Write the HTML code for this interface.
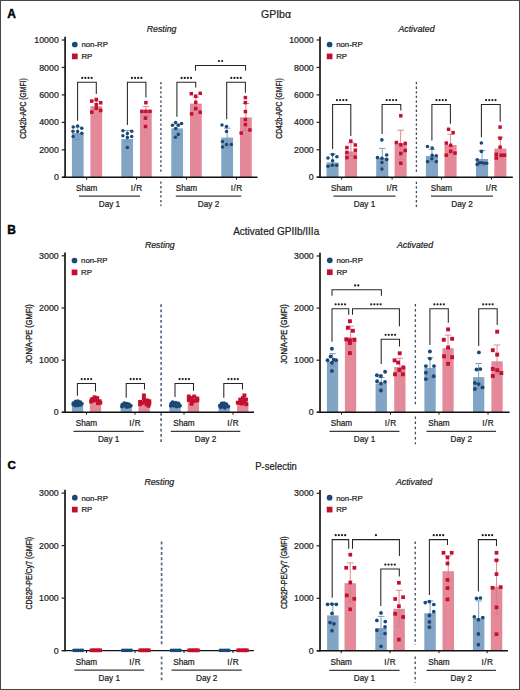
<!DOCTYPE html>
<html><head><meta charset="utf-8"><style>
html,body{margin:0;padding:0;background:#fff;}
body{width:520px;height:690px;overflow:hidden;}
svg{display:block;}
</style></head><body>
<svg width="520" height="690" viewBox="0 0 520 690" font-family='"Liberation Sans", sans-serif'>
<rect x="0" y="0" width="520" height="690" fill="#fff"/>
<text x="7.3" y="18.1" font-size="12" text-anchor="start" font-weight="bold" font-style="normal" fill="#000" stroke="#000" stroke-width="0.4" >A</text>
<text x="7.3" y="234.2" font-size="12" text-anchor="start" font-weight="bold" font-style="normal" fill="#000" stroke="#000" stroke-width="0.4" >B</text>
<text x="7.6" y="469.1" font-size="11.7" text-anchor="start" font-weight="bold" font-style="normal" fill="#000" stroke="#000" stroke-width="0.4" >C</text>
<text x="276" y="17.8" font-size="10.5" text-anchor="middle" font-weight="normal" font-style="normal" fill="#222" stroke="#222" stroke-width="0.22" >GPIb&#945;</text>
<text x="276.2" y="235" font-size="10.5" text-anchor="middle" font-weight="normal" font-style="normal" fill="#222" stroke="#222" stroke-width="0.22" textLength="86" lengthAdjust="spacingAndGlyphs">Activated GPIIb/IIIa</text>
<text x="276.1" y="469.8" font-size="10.5" text-anchor="middle" font-weight="normal" font-style="normal" fill="#222" stroke="#222" stroke-width="0.22" textLength="41.6" lengthAdjust="spacingAndGlyphs">P-selectin</text>
<rect x="71.9" y="133" width="11.75" height="44.3" fill="#83a5c5"/>
<rect x="90.4" y="106.2" width="11.75" height="71.1" fill="#e4899a"/>
<rect x="121.3" y="139" width="11.75" height="38.3" fill="#83a5c5"/>
<rect x="140" y="110.1" width="11.75" height="67.2" fill="#e4899a"/>
<rect x="171.3" y="128.4" width="11.75" height="48.9" fill="#83a5c5"/>
<rect x="190" y="103.6" width="11.75" height="73.7" fill="#e4899a"/>
<rect x="221.3" y="137.6" width="11.75" height="39.7" fill="#83a5c5"/>
<rect x="240" y="117.4" width="11.75" height="59.9" fill="#e4899a"/>
<line x1="65.1" y1="36.7" x2="65.1" y2="177.9" stroke="#1e1e1e" stroke-width="1.75" />
<line x1="61.9" y1="177.3" x2="257.5" y2="177.3" stroke="#111" stroke-width="1.4" />
<line x1="77.78" y1="127" x2="77.78" y2="139.5" stroke="#6f95bd" stroke-width="0.9" />
<line x1="74.48" y1="127" x2="81.08" y2="127" stroke="#6f95bd" stroke-width="0.9" />
<line x1="74.48" y1="139.5" x2="81.08" y2="139.5" stroke="#6f95bd" stroke-width="0.9" />
<line x1="96.28" y1="101" x2="96.28" y2="110" stroke="#d97a8d" stroke-width="0.9" />
<line x1="92.98" y1="101" x2="99.58" y2="101" stroke="#d97a8d" stroke-width="0.9" />
<line x1="92.98" y1="110" x2="99.58" y2="110" stroke="#d97a8d" stroke-width="0.9" />
<line x1="127.17" y1="130.5" x2="127.17" y2="141.6" stroke="#6f95bd" stroke-width="0.9" />
<line x1="123.88" y1="130.5" x2="130.47" y2="130.5" stroke="#6f95bd" stroke-width="0.9" />
<line x1="123.88" y1="141.6" x2="130.47" y2="141.6" stroke="#6f95bd" stroke-width="0.9" />
<line x1="145.88" y1="106.6" x2="145.88" y2="116" stroke="#d97a8d" stroke-width="0.9" />
<line x1="142.57" y1="106.6" x2="149.18" y2="106.6" stroke="#d97a8d" stroke-width="0.9" />
<line x1="142.57" y1="116" x2="149.18" y2="116" stroke="#d97a8d" stroke-width="0.9" />
<line x1="177.18" y1="124" x2="177.18" y2="133" stroke="#6f95bd" stroke-width="0.9" />
<line x1="173.88" y1="124" x2="180.48" y2="124" stroke="#6f95bd" stroke-width="0.9" />
<line x1="173.88" y1="133" x2="180.48" y2="133" stroke="#6f95bd" stroke-width="0.9" />
<line x1="195.88" y1="97" x2="195.88" y2="110" stroke="#d97a8d" stroke-width="0.9" />
<line x1="192.57" y1="97" x2="199.18" y2="97" stroke="#d97a8d" stroke-width="0.9" />
<line x1="192.57" y1="110" x2="199.18" y2="110" stroke="#d97a8d" stroke-width="0.9" />
<line x1="227.18" y1="128.2" x2="227.18" y2="147" stroke="#6f95bd" stroke-width="0.9" />
<line x1="223.88" y1="128.2" x2="230.48" y2="128.2" stroke="#6f95bd" stroke-width="0.9" />
<line x1="223.88" y1="147" x2="230.48" y2="147" stroke="#6f95bd" stroke-width="0.9" />
<line x1="245.88" y1="103.5" x2="245.88" y2="130.4" stroke="#d97a8d" stroke-width="0.9" />
<line x1="242.57" y1="103.5" x2="249.18" y2="103.5" stroke="#d97a8d" stroke-width="0.9" />
<line x1="242.57" y1="130.4" x2="249.18" y2="130.4" stroke="#d97a8d" stroke-width="0.9" />
<circle cx="73.2" cy="127" r="1.75" fill="#1b4874"/>
<circle cx="77.6" cy="126.1" r="1.75" fill="#1b4874"/>
<circle cx="81.8" cy="128.3" r="1.75" fill="#1b4874"/>
<circle cx="73" cy="131.2" r="1.75" fill="#1b4874"/>
<circle cx="77.6" cy="131.6" r="1.75" fill="#1b4874"/>
<circle cx="81.8" cy="133.2" r="1.75" fill="#1b4874"/>
<circle cx="73.2" cy="136.5" r="1.75" fill="#1b4874"/>
<rect x="89.95" y="99.35" width="3.5" height="3.5" fill="#c3102f"/>
<rect x="94.55" y="97.75" width="3.5" height="3.5" fill="#c3102f"/>
<rect x="98.95" y="101.05" width="3.5" height="3.5" fill="#c3102f"/>
<rect x="94.55" y="102.95" width="3.5" height="3.5" fill="#c3102f"/>
<rect x="94.55" y="106.45" width="3.5" height="3.5" fill="#c3102f"/>
<rect x="90.05" y="110.45" width="3.5" height="3.5" fill="#c3102f"/>
<rect x="98.95" y="108.75" width="3.5" height="3.5" fill="#c3102f"/>
<circle cx="122.9" cy="130.7" r="1.75" fill="#1b4874"/>
<circle cx="127.4" cy="133.4" r="1.75" fill="#1b4874"/>
<circle cx="131.7" cy="131.3" r="1.75" fill="#1b4874"/>
<circle cx="122.9" cy="135.8" r="1.75" fill="#1b4874"/>
<circle cx="127.4" cy="137.6" r="1.75" fill="#1b4874"/>
<circle cx="131.7" cy="136.6" r="1.75" fill="#1b4874"/>
<circle cx="127.4" cy="147.6" r="1.75" fill="#1b4874"/>
<rect x="144.15" y="100.95" width="3.5" height="3.5" fill="#c3102f"/>
<rect x="140.15" y="109.55" width="3.5" height="3.5" fill="#c3102f"/>
<rect x="144.15" y="109.55" width="3.5" height="3.5" fill="#c3102f"/>
<rect x="148.15" y="109.55" width="3.5" height="3.5" fill="#c3102f"/>
<rect x="143.75" y="116.35" width="3.5" height="3.5" fill="#c3102f"/>
<rect x="143.75" y="124.75" width="3.5" height="3.5" fill="#c3102f"/>
<circle cx="172.5" cy="125.3" r="1.75" fill="#1b4874"/>
<circle cx="175.6" cy="122.4" r="1.75" fill="#1b4874"/>
<circle cx="178.3" cy="125.3" r="1.75" fill="#1b4874"/>
<circle cx="181.6" cy="123.4" r="1.75" fill="#1b4874"/>
<circle cx="175.6" cy="128.4" r="1.75" fill="#1b4874"/>
<circle cx="178.3" cy="134.4" r="1.75" fill="#1b4874"/>
<circle cx="175.4" cy="137.2" r="1.75" fill="#1b4874"/>
<rect x="189.55" y="91.95" width="3.5" height="3.5" fill="#c3102f"/>
<rect x="193.95" y="94.45" width="3.5" height="3.5" fill="#c3102f"/>
<rect x="198.45" y="91.55" width="3.5" height="3.5" fill="#c3102f"/>
<rect x="193.95" y="100.65" width="3.5" height="3.5" fill="#c3102f"/>
<rect x="193.95" y="106.85" width="3.5" height="3.5" fill="#c3102f"/>
<rect x="189.85" y="112.15" width="3.5" height="3.5" fill="#c3102f"/>
<rect x="198.45" y="110.55" width="3.5" height="3.5" fill="#c3102f"/>
<circle cx="222" cy="124.9" r="1.75" fill="#1b4874"/>
<circle cx="226.5" cy="126.4" r="1.75" fill="#1b4874"/>
<circle cx="226.5" cy="131.5" r="1.75" fill="#1b4874"/>
<circle cx="222.5" cy="141.4" r="1.75" fill="#1b4874"/>
<circle cx="226.5" cy="144.4" r="1.75" fill="#1b4874"/>
<circle cx="231.3" cy="144.4" r="1.75" fill="#1b4874"/>
<circle cx="222.5" cy="147.1" r="1.75" fill="#1b4874"/>
<rect x="243.65" y="95.85" width="3.5" height="3.5" fill="#c3102f"/>
<rect x="243.65" y="100.85" width="3.5" height="3.5" fill="#c3102f"/>
<rect x="243.65" y="109.85" width="3.5" height="3.5" fill="#c3102f"/>
<rect x="243.65" y="117.85" width="3.5" height="3.5" fill="#c3102f"/>
<rect x="243.65" y="122.85" width="3.5" height="3.5" fill="#c3102f"/>
<rect x="248.15" y="128.25" width="3.5" height="3.5" fill="#c3102f"/>
<rect x="239.45" y="131.35" width="3.5" height="3.5" fill="#c3102f"/>
<line x1="61.7" y1="177.3" x2="65.1" y2="177.3" stroke="#222" stroke-width="1.2" />
<text x="58.8" y="180.4" font-size="8.8" text-anchor="end" font-weight="normal" font-style="normal" fill="#222" stroke="#222" stroke-width="0.22" >0</text>
<line x1="61.7" y1="149.84" x2="65.1" y2="149.84" stroke="#222" stroke-width="1.2" />
<text x="58.8" y="152.94" font-size="8.8" text-anchor="end" font-weight="normal" font-style="normal" fill="#222" stroke="#222" stroke-width="0.22" >2000</text>
<line x1="61.7" y1="122.38" x2="65.1" y2="122.38" stroke="#222" stroke-width="1.2" />
<text x="58.8" y="125.48" font-size="8.8" text-anchor="end" font-weight="normal" font-style="normal" fill="#222" stroke="#222" stroke-width="0.22" >4000</text>
<line x1="61.7" y1="94.92" x2="65.1" y2="94.92" stroke="#222" stroke-width="1.2" />
<text x="58.8" y="98.02" font-size="8.8" text-anchor="end" font-weight="normal" font-style="normal" fill="#222" stroke="#222" stroke-width="0.22" >6000</text>
<line x1="61.7" y1="67.46" x2="65.1" y2="67.46" stroke="#222" stroke-width="1.2" />
<text x="58.8" y="70.56" font-size="8.8" text-anchor="end" font-weight="normal" font-style="normal" fill="#222" stroke="#222" stroke-width="0.22" >8000</text>
<line x1="61.7" y1="40" x2="65.1" y2="40" stroke="#222" stroke-width="1.2" />
<text x="58.8" y="43.1" font-size="8.8" text-anchor="end" font-weight="normal" font-style="normal" fill="#222" stroke="#222" stroke-width="0.22" >10000</text>
<line x1="86.7" y1="177.3" x2="86.7" y2="179.7" stroke="#1a1a1a" stroke-width="1.0" />
<text x="86.7" y="191.2" font-size="8.2" text-anchor="middle" font-weight="normal" font-style="normal" fill="#222" stroke="#222" stroke-width="0.22" >Sham</text>
<line x1="136.5" y1="177.3" x2="136.5" y2="179.7" stroke="#1a1a1a" stroke-width="1.0" />
<text x="136.7" y="191.2" font-size="8.2" text-anchor="middle" font-weight="normal" font-style="normal" fill="#222" stroke="#222" stroke-width="0.22" letter-spacing="0.4">I/R</text>
<line x1="186.5" y1="177.3" x2="186.5" y2="179.7" stroke="#1a1a1a" stroke-width="1.0" />
<text x="186.5" y="191.2" font-size="8.2" text-anchor="middle" font-weight="normal" font-style="normal" fill="#222" stroke="#222" stroke-width="0.22" >Sham</text>
<line x1="236.5" y1="177.3" x2="236.5" y2="179.7" stroke="#1a1a1a" stroke-width="1.0" />
<text x="236.7" y="191.2" font-size="8.2" text-anchor="middle" font-weight="normal" font-style="normal" fill="#222" stroke="#222" stroke-width="0.22" letter-spacing="0.4">I/R</text>
<line x1="78.9" y1="196.1" x2="140" y2="196.1" stroke="#3a3a3a" stroke-width="1.25" />
<text x="109.45" y="206.5" font-size="8.2" text-anchor="middle" font-weight="normal" font-style="normal" fill="#222" stroke="#222" stroke-width="0.22" >Day 1</text>
<line x1="175.8" y1="196.1" x2="241.2" y2="196.1" stroke="#3a3a3a" stroke-width="1.25" />
<text x="208.5" y="206.5" font-size="8.2" text-anchor="middle" font-weight="normal" font-style="normal" fill="#222" stroke="#222" stroke-width="0.22" >Day 2</text>
<line x1="160.9" y1="82" x2="160.9" y2="174" stroke="#44546c" stroke-width="1.4" stroke-dasharray="2.3 2.3"/>
<line x1="160.9" y1="181.5" x2="160.9" y2="206" stroke="#44546c" stroke-width="1.4" stroke-dasharray="2.3 2.3"/>
<polyline points="77.6,120.8 77.6,82.3 96.3,82.3 96.3,93.9" fill="none" stroke="#262626" stroke-width="1.05"/>
<circle cx="82.22" cy="77.9" r="1.1" fill="#1a1a1a"/>
<circle cx="85.38" cy="77.9" r="1.1" fill="#1a1a1a"/>
<circle cx="88.52" cy="77.9" r="1.1" fill="#1a1a1a"/>
<circle cx="91.67" cy="77.9" r="1.1" fill="#1a1a1a"/>
<polyline points="127.4,124.9 127.4,82.3 145.9,82.3 145.9,97.4" fill="none" stroke="#262626" stroke-width="1.05"/>
<circle cx="131.93" cy="77.9" r="1.1" fill="#1a1a1a"/>
<circle cx="135.08" cy="77.9" r="1.1" fill="#1a1a1a"/>
<circle cx="138.23" cy="77.9" r="1.1" fill="#1a1a1a"/>
<circle cx="141.38" cy="77.9" r="1.1" fill="#1a1a1a"/>
<polyline points="176.9,116.8 176.9,82.3 195.7,82.3 195.7,87.5" fill="none" stroke="#262626" stroke-width="1.05"/>
<circle cx="181.58" cy="77.9" r="1.1" fill="#1a1a1a"/>
<circle cx="184.73" cy="77.9" r="1.1" fill="#1a1a1a"/>
<circle cx="187.88" cy="77.9" r="1.1" fill="#1a1a1a"/>
<circle cx="191.03" cy="77.9" r="1.1" fill="#1a1a1a"/>
<polyline points="226.7,119.2 226.7,82.3 245.4,82.3 245.4,92.7" fill="none" stroke="#262626" stroke-width="1.05"/>
<circle cx="231.33" cy="77.9" r="1.1" fill="#1a1a1a"/>
<circle cx="234.48" cy="77.9" r="1.1" fill="#1a1a1a"/>
<circle cx="237.63" cy="77.9" r="1.1" fill="#1a1a1a"/>
<circle cx="240.78" cy="77.9" r="1.1" fill="#1a1a1a"/>
<polyline points="195.5,70.8 195.5,65.4 245.6,65.4 245.6,70.8" fill="none" stroke="#262626" stroke-width="1.05"/>
<circle cx="218.98" cy="61" r="1.1" fill="#1a1a1a"/>
<circle cx="222.13" cy="61" r="1.1" fill="#1a1a1a"/>
<circle cx="74.8" cy="44.5" r="2.85" fill="#1b4874"/>
<text x="81.4" y="47.3" font-size="7.8" text-anchor="start" font-weight="normal" font-style="normal" fill="#222" stroke="#222" stroke-width="0.22" >non-RP</text>
<rect x="71.95" y="53.55" width="5.7" height="5.7" fill="#c3102f"/>
<text x="81.4" y="59.2" font-size="7.8" text-anchor="start" font-weight="normal" font-style="normal" fill="#222" stroke="#222" stroke-width="0.22" >RP</text>
<text x="161.6" y="31.5" font-size="8.8" text-anchor="middle" font-weight="normal" font-style="italic" fill="#222" stroke="#222" stroke-width="0.22" >Resting</text>
<text transform="translate(26.4,108.5) rotate(-90)" x="0" y="0" font-size="8.3" font-weight="normal" text-anchor="middle" fill="#1e1e1e" stroke="#1e1e1e" stroke-width="0.3" textLength="60.5" lengthAdjust="spacingAndGlyphs">CD42b-APC (GMFI)</text>
<rect x="326.5" y="162.4" width="12.1" height="14.8" fill="#83a5c5"/>
<rect x="344.9" y="151.5" width="12.1" height="25.7" fill="#e4899a"/>
<rect x="376.2" y="158" width="12.1" height="19.2" fill="#83a5c5"/>
<rect x="394.6" y="143.4" width="12.1" height="33.8" fill="#e4899a"/>
<rect x="425.9" y="156" width="12.1" height="21.2" fill="#83a5c5"/>
<rect x="444.5" y="145" width="12.1" height="32.2" fill="#e4899a"/>
<rect x="476" y="159" width="12.1" height="18.2" fill="#83a5c5"/>
<rect x="494.3" y="148.6" width="12.1" height="28.6" fill="#e4899a"/>
<line x1="320" y1="36.7" x2="320" y2="177.8" stroke="#1e1e1e" stroke-width="1.75" />
<line x1="316.8" y1="177.2" x2="512.8" y2="177.2" stroke="#111" stroke-width="1.4" />
<line x1="332.55" y1="154" x2="332.55" y2="166" stroke="#6f95bd" stroke-width="0.9" />
<line x1="329.25" y1="154" x2="335.85" y2="154" stroke="#6f95bd" stroke-width="0.9" />
<line x1="329.25" y1="166" x2="335.85" y2="166" stroke="#6f95bd" stroke-width="0.9" />
<line x1="350.95" y1="142.8" x2="350.95" y2="155.9" stroke="#d97a8d" stroke-width="0.9" />
<line x1="347.65" y1="142.8" x2="354.25" y2="142.8" stroke="#d97a8d" stroke-width="0.9" />
<line x1="347.65" y1="155.9" x2="354.25" y2="155.9" stroke="#d97a8d" stroke-width="0.9" />
<line x1="382.25" y1="148.4" x2="382.25" y2="166" stroke="#6f95bd" stroke-width="0.9" />
<line x1="378.95" y1="148.4" x2="385.55" y2="148.4" stroke="#6f95bd" stroke-width="0.9" />
<line x1="378.95" y1="166" x2="385.55" y2="166" stroke="#6f95bd" stroke-width="0.9" />
<line x1="400.65" y1="130.2" x2="400.65" y2="159.4" stroke="#d97a8d" stroke-width="0.9" />
<line x1="397.35" y1="130.2" x2="403.95" y2="130.2" stroke="#d97a8d" stroke-width="0.9" />
<line x1="397.35" y1="159.4" x2="403.95" y2="159.4" stroke="#d97a8d" stroke-width="0.9" />
<line x1="431.95" y1="149.4" x2="431.95" y2="162" stroke="#6f95bd" stroke-width="0.9" />
<line x1="428.65" y1="149.4" x2="435.25" y2="149.4" stroke="#6f95bd" stroke-width="0.9" />
<line x1="428.65" y1="162" x2="435.25" y2="162" stroke="#6f95bd" stroke-width="0.9" />
<line x1="450.55" y1="134.3" x2="450.55" y2="154" stroke="#d97a8d" stroke-width="0.9" />
<line x1="447.25" y1="134.3" x2="453.85" y2="134.3" stroke="#d97a8d" stroke-width="0.9" />
<line x1="447.25" y1="154" x2="453.85" y2="154" stroke="#d97a8d" stroke-width="0.9" />
<line x1="482.05" y1="150.5" x2="482.05" y2="166" stroke="#6f95bd" stroke-width="0.9" />
<line x1="478.75" y1="150.5" x2="485.35" y2="150.5" stroke="#6f95bd" stroke-width="0.9" />
<line x1="478.75" y1="166" x2="485.35" y2="166" stroke="#6f95bd" stroke-width="0.9" />
<line x1="500.35" y1="137.3" x2="500.35" y2="158" stroke="#d97a8d" stroke-width="0.9" />
<line x1="497.05" y1="137.3" x2="503.65" y2="137.3" stroke="#d97a8d" stroke-width="0.9" />
<line x1="497.05" y1="158" x2="503.65" y2="158" stroke="#d97a8d" stroke-width="0.9" />
<circle cx="332.6" cy="154.6" r="1.8" fill="#1b4874"/>
<circle cx="336.9" cy="156.7" r="1.8" fill="#1b4874"/>
<circle cx="328" cy="158" r="1.8" fill="#1b4874"/>
<circle cx="332.6" cy="160.7" r="1.8" fill="#1b4874"/>
<circle cx="328" cy="166.3" r="1.8" fill="#1b4874"/>
<circle cx="332.4" cy="165.3" r="1.8" fill="#1b4874"/>
<circle cx="336.7" cy="165.3" r="1.8" fill="#1b4874"/>
<rect x="349.05" y="139.35" width="3.5" height="3.5" fill="#c3102f"/>
<rect x="353.55" y="143.25" width="3.5" height="3.5" fill="#c3102f"/>
<rect x="345.15" y="145.85" width="3.5" height="3.5" fill="#c3102f"/>
<rect x="353.55" y="148.45" width="3.5" height="3.5" fill="#c3102f"/>
<rect x="345.15" y="150.65" width="3.5" height="3.5" fill="#c3102f"/>
<rect x="345.15" y="155.85" width="3.5" height="3.5" fill="#c3102f"/>
<rect x="353.55" y="155.45" width="3.5" height="3.5" fill="#c3102f"/>
<circle cx="381.9" cy="139.9" r="1.8" fill="#1b4874"/>
<circle cx="386.7" cy="155" r="1.8" fill="#1b4874"/>
<circle cx="377.5" cy="157.6" r="1.8" fill="#1b4874"/>
<circle cx="381.9" cy="158.2" r="1.8" fill="#1b4874"/>
<circle cx="386.7" cy="159.4" r="1.8" fill="#1b4874"/>
<circle cx="381.9" cy="162.5" r="1.8" fill="#1b4874"/>
<circle cx="381.9" cy="169.1" r="1.8" fill="#1b4874"/>
<rect x="399.05" y="114.05" width="3.5" height="3.5" fill="#c3102f"/>
<rect x="394.65" y="140.75" width="3.5" height="3.5" fill="#c3102f"/>
<rect x="399.05" y="143.05" width="3.5" height="3.5" fill="#c3102f"/>
<rect x="403.45" y="141.65" width="3.5" height="3.5" fill="#c3102f"/>
<rect x="403.45" y="148.75" width="3.5" height="3.5" fill="#c3102f"/>
<rect x="399.05" y="151.75" width="3.5" height="3.5" fill="#c3102f"/>
<rect x="399.05" y="161.45" width="3.5" height="3.5" fill="#c3102f"/>
<circle cx="427.5" cy="146.5" r="1.8" fill="#1b4874"/>
<circle cx="432.2" cy="148.1" r="1.8" fill="#1b4874"/>
<circle cx="432.2" cy="155.2" r="1.8" fill="#1b4874"/>
<circle cx="436.3" cy="155.7" r="1.8" fill="#1b4874"/>
<circle cx="431.9" cy="158.8" r="1.8" fill="#1b4874"/>
<circle cx="427.6" cy="161.6" r="1.8" fill="#1b4874"/>
<circle cx="436.3" cy="161.6" r="1.8" fill="#1b4874"/>
<rect x="446.85" y="127.55" width="3.5" height="3.5" fill="#c3102f"/>
<rect x="451.35" y="130.85" width="3.5" height="3.5" fill="#c3102f"/>
<rect x="444.55" y="141.35" width="3.5" height="3.5" fill="#c3102f"/>
<rect x="448.95" y="143.55" width="3.5" height="3.5" fill="#c3102f"/>
<rect x="448.95" y="149.45" width="3.5" height="3.5" fill="#c3102f"/>
<rect x="453.25" y="151.35" width="3.5" height="3.5" fill="#c3102f"/>
<rect x="444.55" y="153.45" width="3.5" height="3.5" fill="#c3102f"/>
<circle cx="481.4" cy="143" r="1.8" fill="#1b4874"/>
<circle cx="481.4" cy="151.4" r="1.8" fill="#1b4874"/>
<circle cx="477.2" cy="159.7" r="1.8" fill="#1b4874"/>
<circle cx="479.5" cy="162.7" r="1.8" fill="#1b4874"/>
<circle cx="481.9" cy="162.7" r="1.8" fill="#1b4874"/>
<circle cx="484.2" cy="163.2" r="1.8" fill="#1b4874"/>
<circle cx="486.6" cy="163.2" r="1.8" fill="#1b4874"/>
<circle cx="477.2" cy="164.4" r="1.8" fill="#1b4874"/>
<rect x="498.35" y="125.35" width="3.5" height="3.5" fill="#c3102f"/>
<rect x="498.35" y="136.45" width="3.5" height="3.5" fill="#c3102f"/>
<rect x="498.35" y="145.45" width="3.5" height="3.5" fill="#c3102f"/>
<rect x="494.55" y="152.55" width="3.5" height="3.5" fill="#c3102f"/>
<rect x="494.55" y="156.25" width="3.5" height="3.5" fill="#c3102f"/>
<rect x="499.45" y="153.45" width="3.5" height="3.5" fill="#c3102f"/>
<rect x="502.75" y="153.45" width="3.5" height="3.5" fill="#c3102f"/>
<line x1="316.6" y1="177.2" x2="320" y2="177.2" stroke="#222" stroke-width="1.2" />
<text x="313.7" y="180.3" font-size="8.8" text-anchor="end" font-weight="normal" font-style="normal" fill="#222" stroke="#222" stroke-width="0.22" >0</text>
<line x1="316.6" y1="149.76" x2="320" y2="149.76" stroke="#222" stroke-width="1.2" />
<text x="313.7" y="152.86" font-size="8.8" text-anchor="end" font-weight="normal" font-style="normal" fill="#222" stroke="#222" stroke-width="0.22" >2000</text>
<line x1="316.6" y1="122.32" x2="320" y2="122.32" stroke="#222" stroke-width="1.2" />
<text x="313.7" y="125.42" font-size="8.8" text-anchor="end" font-weight="normal" font-style="normal" fill="#222" stroke="#222" stroke-width="0.22" >4000</text>
<line x1="316.6" y1="94.88" x2="320" y2="94.88" stroke="#222" stroke-width="1.2" />
<text x="313.7" y="97.98" font-size="8.8" text-anchor="end" font-weight="normal" font-style="normal" fill="#222" stroke="#222" stroke-width="0.22" >6000</text>
<line x1="316.6" y1="67.44" x2="320" y2="67.44" stroke="#222" stroke-width="1.2" />
<text x="313.7" y="70.54" font-size="8.8" text-anchor="end" font-weight="normal" font-style="normal" fill="#222" stroke="#222" stroke-width="0.22" >8000</text>
<line x1="316.6" y1="40" x2="320" y2="40" stroke="#222" stroke-width="1.2" />
<text x="313.7" y="43.1" font-size="8.8" text-anchor="end" font-weight="normal" font-style="normal" fill="#222" stroke="#222" stroke-width="0.22" >10000</text>
<line x1="341.7" y1="177.2" x2="341.7" y2="179.6" stroke="#1a1a1a" stroke-width="1.0" />
<text x="341.7" y="191.2" font-size="8.2" text-anchor="middle" font-weight="normal" font-style="normal" fill="#222" stroke="#222" stroke-width="0.22" >Sham</text>
<line x1="392.1" y1="177.2" x2="392.1" y2="179.6" stroke="#1a1a1a" stroke-width="1.0" />
<text x="392.3" y="191.2" font-size="8.2" text-anchor="middle" font-weight="normal" font-style="normal" fill="#222" stroke="#222" stroke-width="0.22" letter-spacing="0.4">I/R</text>
<line x1="441.5" y1="177.2" x2="441.5" y2="179.6" stroke="#1a1a1a" stroke-width="1.0" />
<text x="441.5" y="191.2" font-size="8.2" text-anchor="middle" font-weight="normal" font-style="normal" fill="#222" stroke="#222" stroke-width="0.22" >Sham</text>
<line x1="491.5" y1="177.2" x2="491.5" y2="179.6" stroke="#1a1a1a" stroke-width="1.0" />
<text x="491.7" y="191.2" font-size="8.2" text-anchor="middle" font-weight="normal" font-style="normal" fill="#222" stroke="#222" stroke-width="0.22" letter-spacing="0.4">I/R</text>
<line x1="333.5" y1="196.1" x2="395.5" y2="196.1" stroke="#3a3a3a" stroke-width="1.25" />
<text x="364.5" y="206.5" font-size="8.2" text-anchor="middle" font-weight="normal" font-style="normal" fill="#222" stroke="#222" stroke-width="0.22" >Day 1</text>
<line x1="431" y1="196.1" x2="493" y2="196.1" stroke="#3a3a3a" stroke-width="1.25" />
<text x="462" y="206.5" font-size="8.2" text-anchor="middle" font-weight="normal" font-style="normal" fill="#222" stroke="#222" stroke-width="0.22" >Day 2</text>
<line x1="416.4" y1="82" x2="416.4" y2="173.6" stroke="#3a4a62" stroke-width="1.3" stroke-dasharray="2.3 2.3"/>
<line x1="416.4" y1="181.7" x2="416.4" y2="208.4" stroke="#3a4a62" stroke-width="1.3" stroke-dasharray="2.3 2.3"/>
<polyline points="332.6,148.9 332.6,104.5 350.8,104.5 350.8,135.9" fill="none" stroke="#262626" stroke-width="1.05"/>
<circle cx="336.98" cy="100.1" r="1.1" fill="#1a1a1a"/>
<circle cx="340.12" cy="100.1" r="1.1" fill="#1a1a1a"/>
<circle cx="343.28" cy="100.1" r="1.1" fill="#1a1a1a"/>
<circle cx="346.43" cy="100.1" r="1.1" fill="#1a1a1a"/>
<polyline points="382.1,134 382.1,104.5 400.8,104.5 400.8,110.4" fill="none" stroke="#262626" stroke-width="1.05"/>
<circle cx="386.73" cy="100.1" r="1.1" fill="#1a1a1a"/>
<circle cx="389.88" cy="100.1" r="1.1" fill="#1a1a1a"/>
<circle cx="393.03" cy="100.1" r="1.1" fill="#1a1a1a"/>
<circle cx="396.18" cy="100.1" r="1.1" fill="#1a1a1a"/>
<polyline points="431.9,140.6 431.9,104.5 450.4,104.5 450.4,123.7" fill="none" stroke="#262626" stroke-width="1.05"/>
<circle cx="436.42" cy="100.1" r="1.1" fill="#1a1a1a"/>
<circle cx="439.57" cy="100.1" r="1.1" fill="#1a1a1a"/>
<circle cx="442.72" cy="100.1" r="1.1" fill="#1a1a1a"/>
<circle cx="445.87" cy="100.1" r="1.1" fill="#1a1a1a"/>
<polyline points="481.4,137.3 481.4,104.5 500.2,104.5 500.2,121.8" fill="none" stroke="#262626" stroke-width="1.05"/>
<circle cx="486.07" cy="100.1" r="1.1" fill="#1a1a1a"/>
<circle cx="489.22" cy="100.1" r="1.1" fill="#1a1a1a"/>
<circle cx="492.37" cy="100.1" r="1.1" fill="#1a1a1a"/>
<circle cx="495.52" cy="100.1" r="1.1" fill="#1a1a1a"/>
<circle cx="329.6" cy="44.5" r="2.85" fill="#1b4874"/>
<text x="336.2" y="47.3" font-size="7.8" text-anchor="start" font-weight="normal" font-style="normal" fill="#222" stroke="#222" stroke-width="0.22" >non-RP</text>
<rect x="326.75" y="53.55" width="5.7" height="5.7" fill="#c3102f"/>
<text x="336.2" y="59.2" font-size="7.8" text-anchor="start" font-weight="normal" font-style="normal" fill="#222" stroke="#222" stroke-width="0.22" >RP</text>
<text x="416.5" y="31.5" font-size="8.8" text-anchor="middle" font-weight="normal" font-style="italic" fill="#222" stroke="#222" stroke-width="0.22" >Activated</text>
<text transform="translate(282.2,108.5) rotate(-90)" x="0" y="0" font-size="8.3" font-weight="normal" text-anchor="middle" fill="#1e1e1e" stroke="#1e1e1e" stroke-width="0.3" textLength="60.5" lengthAdjust="spacingAndGlyphs">CD42b-APC (GMFI)</text>
<rect x="71.9" y="405.5" width="11.3" height="6.8" fill="#83a5c5"/>
<rect x="89.8" y="401.2" width="11.3" height="11.1" fill="#e4899a"/>
<rect x="120.6" y="407.5" width="11.3" height="4.8" fill="#83a5c5"/>
<rect x="138.5" y="403.5" width="11.3" height="8.8" fill="#e4899a"/>
<rect x="169.4" y="405.5" width="11.3" height="6.8" fill="#83a5c5"/>
<rect x="187.8" y="400.5" width="11.3" height="11.8" fill="#e4899a"/>
<rect x="218.5" y="406.8" width="11.3" height="5.5" fill="#83a5c5"/>
<rect x="237.1" y="402" width="11.3" height="10.3" fill="#e4899a"/>
<line x1="65" y1="252.5" x2="65" y2="412.9" stroke="#1e1e1e" stroke-width="1.75" />
<line x1="61.8" y1="412.3" x2="254" y2="412.3" stroke="#111" stroke-width="1.4" />
<circle cx="73.4" cy="403.1" r="1.95" fill="#1b4874"/>
<circle cx="75.7" cy="401.5" r="1.95" fill="#1b4874"/>
<circle cx="78" cy="401.2" r="1.95" fill="#1b4874"/>
<circle cx="80.3" cy="402.3" r="1.95" fill="#1b4874"/>
<circle cx="81.8" cy="403.8" r="1.95" fill="#1b4874"/>
<circle cx="73.4" cy="404.6" r="1.95" fill="#1b4874"/>
<circle cx="78" cy="405.4" r="1.95" fill="#1b4874"/>
<circle cx="76" cy="403.5" r="1.95" fill="#1b4874"/>
<circle cx="80.5" cy="404.8" r="1.95" fill="#1b4874"/>
<circle cx="75.5" cy="405.5" r="1.95" fill="#1b4874"/>
<circle cx="78.5" cy="403" r="1.95" fill="#1b4874"/>
<rect x="89.85" y="397.65" width="3.9" height="3.9" fill="#c3102f"/>
<rect x="92.55" y="395.35" width="3.9" height="3.9" fill="#c3102f"/>
<rect x="95.25" y="396.15" width="3.9" height="3.9" fill="#c3102f"/>
<rect x="97.55" y="399.25" width="3.9" height="3.9" fill="#c3102f"/>
<rect x="89.15" y="399.55" width="3.9" height="3.9" fill="#c3102f"/>
<rect x="92.95" y="398.45" width="3.9" height="3.9" fill="#c3102f"/>
<rect x="98.35" y="400.75" width="3.9" height="3.9" fill="#c3102f"/>
<rect x="94.55" y="398.05" width="3.9" height="3.9" fill="#c3102f"/>
<rect x="91.05" y="397.05" width="3.9" height="3.9" fill="#c3102f"/>
<rect x="96.05" y="401.25" width="3.9" height="3.9" fill="#c3102f"/>
<circle cx="122.4" cy="404.6" r="1.95" fill="#1b4874"/>
<circle cx="124.3" cy="403.1" r="1.95" fill="#1b4874"/>
<circle cx="126.6" cy="403.8" r="1.95" fill="#1b4874"/>
<circle cx="128.9" cy="404.2" r="1.95" fill="#1b4874"/>
<circle cx="130.8" cy="405.8" r="1.95" fill="#1b4874"/>
<circle cx="122" cy="406.5" r="1.95" fill="#1b4874"/>
<circle cx="126.6" cy="406.9" r="1.95" fill="#1b4874"/>
<circle cx="124.5" cy="405.8" r="1.95" fill="#1b4874"/>
<circle cx="129.2" cy="406.5" r="1.95" fill="#1b4874"/>
<circle cx="127.5" cy="405" r="1.95" fill="#1b4874"/>
<rect x="141.95" y="393.45" width="3.9" height="3.9" fill="#c3102f"/>
<rect x="138.15" y="399.95" width="3.9" height="3.9" fill="#c3102f"/>
<rect x="140.45" y="400.75" width="3.9" height="3.9" fill="#c3102f"/>
<rect x="145.05" y="398.45" width="3.9" height="3.9" fill="#c3102f"/>
<rect x="147.35" y="399.25" width="3.9" height="3.9" fill="#c3102f"/>
<rect x="138.15" y="402.25" width="3.9" height="3.9" fill="#c3102f"/>
<rect x="146.55" y="403.85" width="3.9" height="3.9" fill="#c3102f"/>
<rect x="142.85" y="399.55" width="3.9" height="3.9" fill="#c3102f"/>
<rect x="141.95" y="396.55" width="3.9" height="3.9" fill="#c3102f"/>
<rect x="144.55" y="402.25" width="3.9" height="3.9" fill="#c3102f"/>
<rect x="147.35" y="401.55" width="3.9" height="3.9" fill="#c3102f"/>
<circle cx="171.2" cy="403.8" r="1.95" fill="#1b4874"/>
<circle cx="172.7" cy="402.3" r="1.95" fill="#1b4874"/>
<circle cx="175.8" cy="402.7" r="1.95" fill="#1b4874"/>
<circle cx="178.5" cy="403.5" r="1.95" fill="#1b4874"/>
<circle cx="180" cy="405.8" r="1.95" fill="#1b4874"/>
<circle cx="170.8" cy="405.8" r="1.95" fill="#1b4874"/>
<circle cx="176.5" cy="406.5" r="1.95" fill="#1b4874"/>
<circle cx="173.5" cy="405.5" r="1.95" fill="#1b4874"/>
<circle cx="178.5" cy="405.8" r="1.95" fill="#1b4874"/>
<circle cx="174.5" cy="404" r="1.95" fill="#1b4874"/>
<rect x="186.85" y="394.55" width="3.9" height="3.9" fill="#c3102f"/>
<rect x="189.55" y="396.15" width="3.9" height="3.9" fill="#c3102f"/>
<rect x="192.25" y="394.55" width="3.9" height="3.9" fill="#c3102f"/>
<rect x="195.35" y="396.55" width="3.9" height="3.9" fill="#c3102f"/>
<rect x="186.85" y="398.05" width="3.9" height="3.9" fill="#c3102f"/>
<rect x="190.75" y="399.55" width="3.9" height="3.9" fill="#c3102f"/>
<rect x="195.35" y="398.45" width="3.9" height="3.9" fill="#c3102f"/>
<rect x="189.55" y="401.85" width="3.9" height="3.9" fill="#c3102f"/>
<rect x="193.05" y="398.55" width="3.9" height="3.9" fill="#c3102f"/>
<rect x="188.55" y="396.55" width="3.9" height="3.9" fill="#c3102f"/>
<circle cx="219.8" cy="405.8" r="1.95" fill="#1b4874"/>
<circle cx="221.7" cy="403.5" r="1.95" fill="#1b4874"/>
<circle cx="224" cy="403.1" r="1.95" fill="#1b4874"/>
<circle cx="226.3" cy="404.2" r="1.95" fill="#1b4874"/>
<circle cx="228.2" cy="406.5" r="1.95" fill="#1b4874"/>
<circle cx="220.9" cy="407.3" r="1.95" fill="#1b4874"/>
<circle cx="224.8" cy="407.7" r="1.95" fill="#1b4874"/>
<circle cx="222.8" cy="405.8" r="1.95" fill="#1b4874"/>
<circle cx="226.5" cy="406.3" r="1.95" fill="#1b4874"/>
<circle cx="224.5" cy="405" r="1.95" fill="#1b4874"/>
<rect x="242.45" y="393.45" width="3.9" height="3.9" fill="#c3102f"/>
<rect x="240.85" y="396.15" width="3.9" height="3.9" fill="#c3102f"/>
<rect x="238.25" y="397.65" width="3.9" height="3.9" fill="#c3102f"/>
<rect x="235.85" y="400.75" width="3.9" height="3.9" fill="#c3102f"/>
<rect x="238.95" y="400.75" width="3.9" height="3.9" fill="#c3102f"/>
<rect x="242.85" y="399.95" width="3.9" height="3.9" fill="#c3102f"/>
<rect x="244.35" y="402.25" width="3.9" height="3.9" fill="#c3102f"/>
<rect x="241.55" y="398.25" width="3.9" height="3.9" fill="#c3102f"/>
<rect x="240.05" y="401.55" width="3.9" height="3.9" fill="#c3102f"/>
<rect x="244.05" y="397.55" width="3.9" height="3.9" fill="#c3102f"/>
<line x1="61.6" y1="412.3" x2="65" y2="412.3" stroke="#222" stroke-width="1.2" />
<text x="58.7" y="415.4" font-size="8.8" text-anchor="end" font-weight="normal" font-style="normal" fill="#222" stroke="#222" stroke-width="0.22" >0</text>
<line x1="61.6" y1="360.13" x2="65" y2="360.13" stroke="#222" stroke-width="1.2" />
<text x="58.7" y="363.23" font-size="8.8" text-anchor="end" font-weight="normal" font-style="normal" fill="#222" stroke="#222" stroke-width="0.22" >1000</text>
<line x1="61.6" y1="307.97" x2="65" y2="307.97" stroke="#222" stroke-width="1.2" />
<text x="58.7" y="311.07" font-size="8.8" text-anchor="end" font-weight="normal" font-style="normal" fill="#222" stroke="#222" stroke-width="0.22" >2000</text>
<line x1="61.6" y1="255.8" x2="65" y2="255.8" stroke="#222" stroke-width="1.2" />
<text x="58.7" y="258.9" font-size="8.8" text-anchor="end" font-weight="normal" font-style="normal" fill="#222" stroke="#222" stroke-width="0.22" >3000</text>
<line x1="86.5" y1="412.3" x2="86.5" y2="414.7" stroke="#1a1a1a" stroke-width="1.0" />
<text x="86.5" y="426.4" font-size="8.2" text-anchor="middle" font-weight="normal" font-style="normal" fill="#222" stroke="#222" stroke-width="0.22" >Sham</text>
<line x1="135" y1="412.3" x2="135" y2="414.7" stroke="#1a1a1a" stroke-width="1.0" />
<text x="135.2" y="426.4" font-size="8.2" text-anchor="middle" font-weight="normal" font-style="normal" fill="#222" stroke="#222" stroke-width="0.22" letter-spacing="0.4">I/R</text>
<line x1="184" y1="412.3" x2="184" y2="414.7" stroke="#1a1a1a" stroke-width="1.0" />
<text x="184" y="426.4" font-size="8.2" text-anchor="middle" font-weight="normal" font-style="normal" fill="#222" stroke="#222" stroke-width="0.22" >Sham</text>
<line x1="233" y1="412.3" x2="233" y2="414.7" stroke="#1a1a1a" stroke-width="1.0" />
<text x="233.2" y="426.4" font-size="8.2" text-anchor="middle" font-weight="normal" font-style="normal" fill="#222" stroke="#222" stroke-width="0.22" letter-spacing="0.4">I/R</text>
<line x1="73.5" y1="431.3" x2="143.8" y2="431.3" stroke="#3a3a3a" stroke-width="1.25" />
<text x="108.65" y="441.7" font-size="8.2" text-anchor="middle" font-weight="normal" font-style="normal" fill="#222" stroke="#222" stroke-width="0.22" >Day 1</text>
<line x1="170.8" y1="431.3" x2="240.3" y2="431.3" stroke="#3a3a3a" stroke-width="1.25" />
<text x="205.55" y="441.7" font-size="8.2" text-anchor="middle" font-weight="normal" font-style="normal" fill="#222" stroke="#222" stroke-width="0.22" >Day 2</text>
<line x1="161.1" y1="304.3" x2="161.1" y2="406.5" stroke="#566c86" stroke-width="1.7" stroke-dasharray="2.8 2.45"/>
<line x1="161.1" y1="413" x2="161.1" y2="443.5" stroke="#566c86" stroke-width="1.7" stroke-dasharray="2.8 2.45"/>
<polyline points="77.4,395.8 77.4,383.5 95.5,383.5 95.5,391.5" fill="none" stroke="#262626" stroke-width="1.05"/>
<circle cx="81.73" cy="379.1" r="1.1" fill="#1a1a1a"/>
<circle cx="84.88" cy="379.1" r="1.1" fill="#1a1a1a"/>
<circle cx="88.03" cy="379.1" r="1.1" fill="#1a1a1a"/>
<circle cx="91.18" cy="379.1" r="1.1" fill="#1a1a1a"/>
<polyline points="126.2,397.7 126.2,383.5 144.5,383.5 144.5,389.6" fill="none" stroke="#262626" stroke-width="1.05"/>
<circle cx="130.62" cy="379.1" r="1.1" fill="#1a1a1a"/>
<circle cx="133.78" cy="379.1" r="1.1" fill="#1a1a1a"/>
<circle cx="136.93" cy="379.1" r="1.1" fill="#1a1a1a"/>
<circle cx="140.07" cy="379.1" r="1.1" fill="#1a1a1a"/>
<polyline points="175,396.9 175,383.5 193.5,383.5 193.5,390.8" fill="none" stroke="#262626" stroke-width="1.05"/>
<circle cx="179.53" cy="379.1" r="1.1" fill="#1a1a1a"/>
<circle cx="182.68" cy="379.1" r="1.1" fill="#1a1a1a"/>
<circle cx="185.83" cy="379.1" r="1.1" fill="#1a1a1a"/>
<circle cx="188.97" cy="379.1" r="1.1" fill="#1a1a1a"/>
<polyline points="223.8,397.7 223.8,383.5 242.5,383.5 242.5,389.6" fill="none" stroke="#262626" stroke-width="1.05"/>
<circle cx="228.43" cy="379.1" r="1.1" fill="#1a1a1a"/>
<circle cx="231.58" cy="379.1" r="1.1" fill="#1a1a1a"/>
<circle cx="234.73" cy="379.1" r="1.1" fill="#1a1a1a"/>
<circle cx="237.88" cy="379.1" r="1.1" fill="#1a1a1a"/>
<circle cx="74.5" cy="260.5" r="2.85" fill="#1b4874"/>
<text x="81.1" y="263.3" font-size="7.8" text-anchor="start" font-weight="normal" font-style="normal" fill="#222" stroke="#222" stroke-width="0.22" >non-RP</text>
<rect x="71.65" y="269.55" width="5.7" height="5.7" fill="#c3102f"/>
<text x="81.1" y="275.2" font-size="7.8" text-anchor="start" font-weight="normal" font-style="normal" fill="#222" stroke="#222" stroke-width="0.22" >RP</text>
<text x="159.8" y="247.6" font-size="8.8" text-anchor="middle" font-weight="normal" font-style="italic" fill="#222" stroke="#222" stroke-width="0.22" >Resting</text>
<text transform="translate(31.7,334.2) rotate(-90)" x="0" y="0" font-size="8.3" font-weight="normal" text-anchor="middle" fill="#1e1e1e" stroke="#1e1e1e" stroke-width="0.3" textLength="59.8" lengthAdjust="spacingAndGlyphs">JON/A-PE (GMFI)</text>
<rect x="326.9" y="361.7" width="11.3" height="50.6" fill="#83a5c5"/>
<rect x="344.9" y="337.4" width="11.3" height="74.9" fill="#e4899a"/>
<rect x="375.6" y="383.5" width="11.3" height="28.8" fill="#83a5c5"/>
<rect x="394.2" y="367" width="11.3" height="45.3" fill="#e4899a"/>
<rect x="424.4" y="368" width="11.3" height="44.3" fill="#83a5c5"/>
<rect x="442.4" y="348.2" width="11.3" height="64.1" fill="#e4899a"/>
<rect x="473" y="377.1" width="11.3" height="35.2" fill="#83a5c5"/>
<rect x="491.4" y="361.3" width="11.3" height="51" fill="#e4899a"/>
<line x1="320" y1="252.7" x2="320" y2="412.9" stroke="#1e1e1e" stroke-width="1.75" />
<line x1="316.8" y1="412.3" x2="509.6" y2="412.3" stroke="#111" stroke-width="1.4" />
<line x1="332.55" y1="353.6" x2="332.55" y2="366" stroke="#6f95bd" stroke-width="0.9" />
<line x1="329.25" y1="353.6" x2="335.85" y2="353.6" stroke="#6f95bd" stroke-width="0.9" />
<line x1="329.25" y1="366" x2="335.85" y2="366" stroke="#6f95bd" stroke-width="0.9" />
<line x1="350.55" y1="326.2" x2="350.55" y2="349" stroke="#d97a8d" stroke-width="0.9" />
<line x1="347.25" y1="326.2" x2="353.85" y2="326.2" stroke="#d97a8d" stroke-width="0.9" />
<line x1="347.25" y1="349" x2="353.85" y2="349" stroke="#d97a8d" stroke-width="0.9" />
<line x1="381.25" y1="377.5" x2="381.25" y2="389" stroke="#6f95bd" stroke-width="0.9" />
<line x1="377.95" y1="377.5" x2="384.55" y2="377.5" stroke="#6f95bd" stroke-width="0.9" />
<line x1="377.95" y1="389" x2="384.55" y2="389" stroke="#6f95bd" stroke-width="0.9" />
<line x1="399.85" y1="358.3" x2="399.85" y2="372" stroke="#d97a8d" stroke-width="0.9" />
<line x1="396.55" y1="358.3" x2="403.15" y2="358.3" stroke="#d97a8d" stroke-width="0.9" />
<line x1="396.55" y1="372" x2="403.15" y2="372" stroke="#d97a8d" stroke-width="0.9" />
<line x1="430.05" y1="357.7" x2="430.05" y2="378" stroke="#6f95bd" stroke-width="0.9" />
<line x1="426.75" y1="357.7" x2="433.35" y2="357.7" stroke="#6f95bd" stroke-width="0.9" />
<line x1="426.75" y1="378" x2="433.35" y2="378" stroke="#6f95bd" stroke-width="0.9" />
<line x1="448.05" y1="335.1" x2="448.05" y2="360" stroke="#d97a8d" stroke-width="0.9" />
<line x1="444.75" y1="335.1" x2="451.35" y2="335.1" stroke="#d97a8d" stroke-width="0.9" />
<line x1="444.75" y1="360" x2="451.35" y2="360" stroke="#d97a8d" stroke-width="0.9" />
<line x1="478.65" y1="363.5" x2="478.65" y2="388" stroke="#6f95bd" stroke-width="0.9" />
<line x1="475.35" y1="363.5" x2="481.95" y2="363.5" stroke="#6f95bd" stroke-width="0.9" />
<line x1="475.35" y1="388" x2="481.95" y2="388" stroke="#6f95bd" stroke-width="0.9" />
<line x1="497.05" y1="345" x2="497.05" y2="374" stroke="#d97a8d" stroke-width="0.9" />
<line x1="493.75" y1="345" x2="500.35" y2="345" stroke="#d97a8d" stroke-width="0.9" />
<line x1="493.75" y1="374" x2="500.35" y2="374" stroke="#d97a8d" stroke-width="0.9" />
<circle cx="331.9" cy="348.8" r="1.95" fill="#1b4874"/>
<circle cx="330.6" cy="356.5" r="1.95" fill="#1b4874"/>
<circle cx="327.6" cy="360.2" r="1.95" fill="#1b4874"/>
<circle cx="331.9" cy="362.8" r="1.95" fill="#1b4874"/>
<circle cx="336.2" cy="360.2" r="1.95" fill="#1b4874"/>
<circle cx="333.7" cy="359.7" r="1.95" fill="#1b4874"/>
<circle cx="331.9" cy="370.9" r="1.95" fill="#1b4874"/>
<rect x="347.95" y="319.25" width="3.9" height="3.9" fill="#c3102f"/>
<rect x="345.95" y="325.85" width="3.9" height="3.9" fill="#c3102f"/>
<rect x="350.95" y="328.85" width="3.9" height="3.9" fill="#c3102f"/>
<rect x="344.35" y="337.45" width="3.9" height="3.9" fill="#c3102f"/>
<rect x="347.95" y="338.45" width="3.9" height="3.9" fill="#c3102f"/>
<rect x="352.45" y="337.95" width="3.9" height="3.9" fill="#c3102f"/>
<rect x="347.95" y="341.05" width="3.9" height="3.9" fill="#c3102f"/>
<rect x="347.95" y="351.15" width="3.9" height="3.9" fill="#c3102f"/>
<circle cx="385.1" cy="371.8" r="1.95" fill="#1b4874"/>
<circle cx="376.9" cy="375.2" r="1.95" fill="#1b4874"/>
<circle cx="380.9" cy="376" r="1.95" fill="#1b4874"/>
<circle cx="377.1" cy="381.3" r="1.95" fill="#1b4874"/>
<circle cx="385" cy="381.9" r="1.95" fill="#1b4874"/>
<circle cx="380.9" cy="383.6" r="1.95" fill="#1b4874"/>
<circle cx="380.9" cy="390.5" r="1.95" fill="#1b4874"/>
<rect x="397.75" y="351.35" width="3.9" height="3.9" fill="#c3102f"/>
<rect x="392.65" y="358.45" width="3.9" height="3.9" fill="#c3102f"/>
<rect x="396.15" y="360.65" width="3.9" height="3.9" fill="#c3102f"/>
<rect x="401.35" y="365.45" width="3.9" height="3.9" fill="#c3102f"/>
<rect x="397.45" y="368.05" width="3.9" height="3.9" fill="#c3102f"/>
<rect x="393.05" y="372.35" width="3.9" height="3.9" fill="#c3102f"/>
<rect x="400.95" y="372.35" width="3.9" height="3.9" fill="#c3102f"/>
<circle cx="429.9" cy="351.5" r="1.95" fill="#1b4874"/>
<circle cx="429.9" cy="358.6" r="1.95" fill="#1b4874"/>
<circle cx="425.9" cy="366.1" r="1.95" fill="#1b4874"/>
<circle cx="434" cy="366.1" r="1.95" fill="#1b4874"/>
<circle cx="425.9" cy="372.7" r="1.95" fill="#1b4874"/>
<circle cx="433.7" cy="376.3" r="1.95" fill="#1b4874"/>
<circle cx="425.9" cy="379.1" r="1.95" fill="#1b4874"/>
<rect x="446.15" y="327.45" width="3.9" height="3.9" fill="#c3102f"/>
<rect x="441.85" y="337.85" width="3.9" height="3.9" fill="#c3102f"/>
<rect x="450.15" y="336.85" width="3.9" height="3.9" fill="#c3102f"/>
<rect x="446.15" y="345.55" width="3.9" height="3.9" fill="#c3102f"/>
<rect x="442.15" y="354.35" width="3.9" height="3.9" fill="#c3102f"/>
<rect x="450.15" y="355.25" width="3.9" height="3.9" fill="#c3102f"/>
<rect x="446.15" y="361.85" width="3.9" height="3.9" fill="#c3102f"/>
<circle cx="478.9" cy="352.4" r="1.95" fill="#1b4874"/>
<circle cx="476.5" cy="369.5" r="1.95" fill="#1b4874"/>
<circle cx="480.3" cy="369.1" r="1.95" fill="#1b4874"/>
<circle cx="474.9" cy="383" r="1.95" fill="#1b4874"/>
<circle cx="478.7" cy="384.1" r="1.95" fill="#1b4874"/>
<circle cx="482.5" cy="387.4" r="1.95" fill="#1b4874"/>
<circle cx="474.9" cy="389" r="1.95" fill="#1b4874"/>
<rect x="495.25" y="329.75" width="3.9" height="3.9" fill="#c3102f"/>
<rect x="490.85" y="348.25" width="3.9" height="3.9" fill="#c3102f"/>
<rect x="495.25" y="352.65" width="3.9" height="3.9" fill="#c3102f"/>
<rect x="490.85" y="366.95" width="3.9" height="3.9" fill="#c3102f"/>
<rect x="495.25" y="368.25" width="3.9" height="3.9" fill="#c3102f"/>
<rect x="499.35" y="371.05" width="3.9" height="3.9" fill="#c3102f"/>
<rect x="490.85" y="374.05" width="3.9" height="3.9" fill="#c3102f"/>
<line x1="316.6" y1="412.3" x2="320" y2="412.3" stroke="#222" stroke-width="1.2" />
<text x="313.7" y="415.4" font-size="8.8" text-anchor="end" font-weight="normal" font-style="normal" fill="#222" stroke="#222" stroke-width="0.22" >0</text>
<line x1="316.6" y1="360.2" x2="320" y2="360.2" stroke="#222" stroke-width="1.2" />
<text x="313.7" y="363.3" font-size="8.8" text-anchor="end" font-weight="normal" font-style="normal" fill="#222" stroke="#222" stroke-width="0.22" >1000</text>
<line x1="316.6" y1="308.1" x2="320" y2="308.1" stroke="#222" stroke-width="1.2" />
<text x="313.7" y="311.2" font-size="8.8" text-anchor="end" font-weight="normal" font-style="normal" fill="#222" stroke="#222" stroke-width="0.22" >2000</text>
<line x1="316.6" y1="256" x2="320" y2="256" stroke="#222" stroke-width="1.2" />
<text x="313.7" y="259.1" font-size="8.8" text-anchor="end" font-weight="normal" font-style="normal" fill="#222" stroke="#222" stroke-width="0.22" >3000</text>
<line x1="341.5" y1="412.3" x2="341.5" y2="414.7" stroke="#1a1a1a" stroke-width="1.0" />
<text x="341.5" y="426.4" font-size="8.2" text-anchor="middle" font-weight="normal" font-style="normal" fill="#222" stroke="#222" stroke-width="0.22" >Sham</text>
<line x1="390.5" y1="412.3" x2="390.5" y2="414.7" stroke="#1a1a1a" stroke-width="1.0" />
<text x="390.7" y="426.4" font-size="8.2" text-anchor="middle" font-weight="normal" font-style="normal" fill="#222" stroke="#222" stroke-width="0.22" letter-spacing="0.4">I/R</text>
<line x1="439" y1="412.3" x2="439" y2="414.7" stroke="#1a1a1a" stroke-width="1.0" />
<text x="439" y="426.4" font-size="8.2" text-anchor="middle" font-weight="normal" font-style="normal" fill="#222" stroke="#222" stroke-width="0.22" >Sham</text>
<line x1="488" y1="412.3" x2="488" y2="414.7" stroke="#1a1a1a" stroke-width="1.0" />
<text x="488.2" y="426.4" font-size="8.2" text-anchor="middle" font-weight="normal" font-style="normal" fill="#222" stroke="#222" stroke-width="0.22" letter-spacing="0.4">I/R</text>
<line x1="329.5" y1="431.3" x2="399.5" y2="431.3" stroke="#3a3a3a" stroke-width="1.25" />
<text x="364.5" y="441.7" font-size="8.2" text-anchor="middle" font-weight="normal" font-style="normal" fill="#222" stroke="#222" stroke-width="0.22" >Day 1</text>
<line x1="426.5" y1="431.3" x2="496" y2="431.3" stroke="#3a3a3a" stroke-width="1.25" />
<text x="461.25" y="441.7" font-size="8.2" text-anchor="middle" font-weight="normal" font-style="normal" fill="#222" stroke="#222" stroke-width="0.22" >Day 2</text>
<line x1="415.4" y1="303.9" x2="415.4" y2="406" stroke="#3a4a62" stroke-width="1.3" stroke-dasharray="2.5 2.65"/>
<line x1="415.4" y1="416.4" x2="415.4" y2="444.2" stroke="#3a4a62" stroke-width="1.3" stroke-dasharray="2.5 2.65"/>
<polyline points="332,295.7 332,289.8 381.4,289.8 381.4,295.7" fill="none" stroke="#262626" stroke-width="1.05"/>
<circle cx="355.12" cy="285.4" r="1.1" fill="#1a1a1a"/>
<circle cx="358.27" cy="285.4" r="1.1" fill="#1a1a1a"/>
<polyline points="332,341.7 332,308.7 348.7,308.7 348.7,314.8" fill="none" stroke="#262626" stroke-width="1.05"/>
<circle cx="335.62" cy="304.3" r="1.1" fill="#1a1a1a"/>
<circle cx="338.77" cy="304.3" r="1.1" fill="#1a1a1a"/>
<circle cx="341.93" cy="304.3" r="1.1" fill="#1a1a1a"/>
<circle cx="345.07" cy="304.3" r="1.1" fill="#1a1a1a"/>
<polyline points="352.5,314.8 352.5,308.7 399.4,308.7 399.4,326.2" fill="none" stroke="#262626" stroke-width="1.05"/>
<circle cx="371.22" cy="304.3" r="1.1" fill="#1a1a1a"/>
<circle cx="374.37" cy="304.3" r="1.1" fill="#1a1a1a"/>
<circle cx="377.52" cy="304.3" r="1.1" fill="#1a1a1a"/>
<circle cx="380.67" cy="304.3" r="1.1" fill="#1a1a1a"/>
<polyline points="381.2,363.9 381.2,339.2 399.5,339.2 399.5,346.5" fill="none" stroke="#262626" stroke-width="1.05"/>
<circle cx="385.62" cy="334.8" r="1.1" fill="#1a1a1a"/>
<circle cx="388.77" cy="334.8" r="1.1" fill="#1a1a1a"/>
<circle cx="391.93" cy="334.8" r="1.1" fill="#1a1a1a"/>
<circle cx="395.07" cy="334.8" r="1.1" fill="#1a1a1a"/>
<polyline points="429.9,345 429.9,308.7 448.3,308.7 448.3,322.8" fill="none" stroke="#262626" stroke-width="1.05"/>
<circle cx="434.38" cy="304.3" r="1.1" fill="#1a1a1a"/>
<circle cx="437.52" cy="304.3" r="1.1" fill="#1a1a1a"/>
<circle cx="440.68" cy="304.3" r="1.1" fill="#1a1a1a"/>
<circle cx="443.82" cy="304.3" r="1.1" fill="#1a1a1a"/>
<polyline points="478.7,346.1 478.7,308.7 497.2,308.7 497.2,324.9" fill="none" stroke="#262626" stroke-width="1.05"/>
<circle cx="483.22" cy="304.3" r="1.1" fill="#1a1a1a"/>
<circle cx="486.37" cy="304.3" r="1.1" fill="#1a1a1a"/>
<circle cx="489.52" cy="304.3" r="1.1" fill="#1a1a1a"/>
<circle cx="492.67" cy="304.3" r="1.1" fill="#1a1a1a"/>
<circle cx="329.8" cy="260.3" r="2.85" fill="#1b4874"/>
<text x="336.4" y="263.1" font-size="7.8" text-anchor="start" font-weight="normal" font-style="normal" fill="#222" stroke="#222" stroke-width="0.22" >non-RP</text>
<rect x="326.95" y="269.35" width="5.7" height="5.7" fill="#c3102f"/>
<text x="336.4" y="275" font-size="7.8" text-anchor="start" font-weight="normal" font-style="normal" fill="#222" stroke="#222" stroke-width="0.22" >RP</text>
<text x="415" y="247.6" font-size="8.8" text-anchor="middle" font-weight="normal" font-style="italic" fill="#222" stroke="#222" stroke-width="0.22" >Activated</text>
<text transform="translate(286.7,334.2) rotate(-90)" x="0" y="0" font-size="8.3" font-weight="normal" text-anchor="middle" fill="#1e1e1e" stroke="#1e1e1e" stroke-width="0.3" textLength="59.8" lengthAdjust="spacingAndGlyphs">JON/A-PE (GMFI)</text>
<rect x="71.9" y="650" width="11.3" height="0.6" fill="#83a5c5"/>
<rect x="89.8" y="650" width="11.3" height="0.6" fill="#e4899a"/>
<rect x="120.6" y="650" width="11.3" height="0.6" fill="#83a5c5"/>
<rect x="138.5" y="650" width="11.3" height="0.6" fill="#e4899a"/>
<rect x="169.4" y="650" width="11.3" height="0.6" fill="#83a5c5"/>
<rect x="187.5" y="650" width="11.3" height="0.6" fill="#e4899a"/>
<rect x="218.3" y="650" width="11.3" height="0.6" fill="#83a5c5"/>
<rect x="236.5" y="650" width="11.3" height="0.6" fill="#e4899a"/>
<line x1="65" y1="489.8" x2="65" y2="651.2" stroke="#1e1e1e" stroke-width="1.75" />
<line x1="61.8" y1="650.6" x2="253.9" y2="650.6" stroke="#111" stroke-width="1.4" />
<circle cx="74" cy="650.3" r="1.9" fill="#1b4874"/>
<circle cx="76.2" cy="650.3" r="1.9" fill="#1b4874"/>
<circle cx="78.4" cy="650.3" r="1.9" fill="#1b4874"/>
<circle cx="80.6" cy="650.3" r="1.9" fill="#1b4874"/>
<circle cx="82.5" cy="650.3" r="1.9" fill="#1b4874"/>
<rect x="89.65" y="648.45" width="3.7" height="3.7" fill="#c3102f"/>
<rect x="91.95" y="648.45" width="3.7" height="3.7" fill="#c3102f"/>
<rect x="94.15" y="648.45" width="3.7" height="3.7" fill="#c3102f"/>
<rect x="96.35" y="648.45" width="3.7" height="3.7" fill="#c3102f"/>
<rect x="98.35" y="648.45" width="3.7" height="3.7" fill="#c3102f"/>
<circle cx="122.7" cy="650.3" r="1.9" fill="#1b4874"/>
<circle cx="124.9" cy="650.3" r="1.9" fill="#1b4874"/>
<circle cx="127.1" cy="650.3" r="1.9" fill="#1b4874"/>
<circle cx="129.3" cy="650.3" r="1.9" fill="#1b4874"/>
<circle cx="131.2" cy="650.3" r="1.9" fill="#1b4874"/>
<rect x="138.35" y="648.45" width="3.7" height="3.7" fill="#c3102f"/>
<rect x="140.65" y="648.45" width="3.7" height="3.7" fill="#c3102f"/>
<rect x="142.85" y="648.45" width="3.7" height="3.7" fill="#c3102f"/>
<rect x="145.05" y="648.45" width="3.7" height="3.7" fill="#c3102f"/>
<rect x="147.05" y="648.45" width="3.7" height="3.7" fill="#c3102f"/>
<circle cx="171.5" cy="650.3" r="1.9" fill="#1b4874"/>
<circle cx="173.7" cy="650.3" r="1.9" fill="#1b4874"/>
<circle cx="175.9" cy="650.3" r="1.9" fill="#1b4874"/>
<circle cx="178.1" cy="650.3" r="1.9" fill="#1b4874"/>
<circle cx="180" cy="650.3" r="1.9" fill="#1b4874"/>
<rect x="187.35" y="648.45" width="3.7" height="3.7" fill="#c3102f"/>
<rect x="189.65" y="648.45" width="3.7" height="3.7" fill="#c3102f"/>
<rect x="191.85" y="648.45" width="3.7" height="3.7" fill="#c3102f"/>
<rect x="194.05" y="648.45" width="3.7" height="3.7" fill="#c3102f"/>
<rect x="196.05" y="648.45" width="3.7" height="3.7" fill="#c3102f"/>
<circle cx="220.4" cy="650.3" r="1.9" fill="#1b4874"/>
<circle cx="222.6" cy="650.3" r="1.9" fill="#1b4874"/>
<circle cx="224.8" cy="650.3" r="1.9" fill="#1b4874"/>
<circle cx="227" cy="650.3" r="1.9" fill="#1b4874"/>
<circle cx="228.9" cy="650.3" r="1.9" fill="#1b4874"/>
<rect x="236.35" y="648.45" width="3.7" height="3.7" fill="#c3102f"/>
<rect x="238.65" y="648.45" width="3.7" height="3.7" fill="#c3102f"/>
<rect x="240.85" y="648.45" width="3.7" height="3.7" fill="#c3102f"/>
<rect x="243.05" y="648.45" width="3.7" height="3.7" fill="#c3102f"/>
<rect x="245.05" y="648.45" width="3.7" height="3.7" fill="#c3102f"/>
<line x1="61.6" y1="650.6" x2="65" y2="650.6" stroke="#222" stroke-width="1.2" />
<text x="58.7" y="653.7" font-size="8.8" text-anchor="end" font-weight="normal" font-style="normal" fill="#222" stroke="#222" stroke-width="0.22" >0</text>
<line x1="61.6" y1="598.1" x2="65" y2="598.1" stroke="#222" stroke-width="1.2" />
<text x="58.7" y="601.2" font-size="8.8" text-anchor="end" font-weight="normal" font-style="normal" fill="#222" stroke="#222" stroke-width="0.22" >1000</text>
<line x1="61.6" y1="545.6" x2="65" y2="545.6" stroke="#222" stroke-width="1.2" />
<text x="58.7" y="548.7" font-size="8.8" text-anchor="end" font-weight="normal" font-style="normal" fill="#222" stroke="#222" stroke-width="0.22" >2000</text>
<line x1="61.6" y1="493.1" x2="65" y2="493.1" stroke="#222" stroke-width="1.2" />
<text x="58.7" y="496.2" font-size="8.8" text-anchor="end" font-weight="normal" font-style="normal" fill="#222" stroke="#222" stroke-width="0.22" >3000</text>
<line x1="86.5" y1="650.6" x2="86.5" y2="653" stroke="#1a1a1a" stroke-width="1.0" />
<text x="86.5" y="665" font-size="8.2" text-anchor="middle" font-weight="normal" font-style="normal" fill="#222" stroke="#222" stroke-width="0.22" >Sham</text>
<line x1="135" y1="650.6" x2="135" y2="653" stroke="#1a1a1a" stroke-width="1.0" />
<text x="135.2" y="665" font-size="8.2" text-anchor="middle" font-weight="normal" font-style="normal" fill="#222" stroke="#222" stroke-width="0.22" letter-spacing="0.4">I/R</text>
<line x1="184" y1="650.6" x2="184" y2="653" stroke="#1a1a1a" stroke-width="1.0" />
<text x="184" y="665" font-size="8.2" text-anchor="middle" font-weight="normal" font-style="normal" fill="#222" stroke="#222" stroke-width="0.22" >Sham</text>
<line x1="233" y1="650.6" x2="233" y2="653" stroke="#1a1a1a" stroke-width="1.0" />
<text x="233.2" y="665" font-size="8.2" text-anchor="middle" font-weight="normal" font-style="normal" fill="#222" stroke="#222" stroke-width="0.22" letter-spacing="0.4">I/R</text>
<line x1="74.4" y1="670" x2="144.2" y2="670" stroke="#3a3a3a" stroke-width="1.25" />
<text x="109.3" y="680.5" font-size="8.2" text-anchor="middle" font-weight="normal" font-style="normal" fill="#222" stroke="#222" stroke-width="0.22" >Day 1</text>
<line x1="171.5" y1="670" x2="241.9" y2="670" stroke="#3a3a3a" stroke-width="1.25" />
<text x="206.7" y="680.5" font-size="8.2" text-anchor="middle" font-weight="normal" font-style="normal" fill="#222" stroke="#222" stroke-width="0.22" >Day 2</text>
<line x1="161.6" y1="541.6" x2="161.6" y2="644.8" stroke="#566c86" stroke-width="1.7" stroke-dasharray="2.8 2.45"/>
<line x1="161.6" y1="656.4" x2="161.6" y2="681.9" stroke="#566c86" stroke-width="1.7" stroke-dasharray="2.8 2.45"/>
<circle cx="74.8" cy="497.7" r="2.85" fill="#1b4874"/>
<text x="81.4" y="500.5" font-size="7.8" text-anchor="start" font-weight="normal" font-style="normal" fill="#222" stroke="#222" stroke-width="0.22" >non-RP</text>
<rect x="71.95" y="506.75" width="5.7" height="5.7" fill="#c3102f"/>
<text x="81.4" y="512.4" font-size="7.8" text-anchor="start" font-weight="normal" font-style="normal" fill="#222" stroke="#222" stroke-width="0.22" >RP</text>
<text x="159.3" y="484.5" font-size="8.8" text-anchor="middle" font-weight="normal" font-style="italic" fill="#222" stroke="#222" stroke-width="0.22" >Resting</text>
<text transform="translate(31.7,573.2) rotate(-90)" x="0" y="0" font-size="8.3" font-weight="normal" text-anchor="middle" fill="#1e1e1e" stroke="#1e1e1e" stroke-width="0.3" textLength="72.8" lengthAdjust="spacingAndGlyphs">CD62P-PE/Cy7 (GMFI)</text>
<rect x="327.1" y="615.4" width="11.5" height="35.4" fill="#83a5c5"/>
<rect x="344.5" y="583.2" width="11.5" height="67.6" fill="#e4899a"/>
<rect x="375.3" y="628" width="11.5" height="22.8" fill="#83a5c5"/>
<rect x="393.3" y="608.8" width="11.5" height="42" fill="#e4899a"/>
<rect x="424.3" y="613.2" width="11.5" height="37.6" fill="#83a5c5"/>
<rect x="442.5" y="571.2" width="11.5" height="79.6" fill="#e4899a"/>
<rect x="472.9" y="618.3" width="11.5" height="32.5" fill="#83a5c5"/>
<rect x="490.8" y="586.7" width="11.5" height="64.1" fill="#e4899a"/>
<line x1="320" y1="490" x2="320" y2="651.4" stroke="#1e1e1e" stroke-width="1.75" />
<line x1="316.8" y1="650.8" x2="507.9" y2="650.8" stroke="#111" stroke-width="1.4" />
<line x1="332.85" y1="604" x2="332.85" y2="627" stroke="#6f95bd" stroke-width="0.9" />
<line x1="329.55" y1="604" x2="336.15" y2="604" stroke="#6f95bd" stroke-width="0.9" />
<line x1="329.55" y1="627" x2="336.15" y2="627" stroke="#6f95bd" stroke-width="0.9" />
<line x1="350.25" y1="562.9" x2="350.25" y2="602.3" stroke="#d97a8d" stroke-width="0.9" />
<line x1="346.95" y1="562.9" x2="353.55" y2="562.9" stroke="#d97a8d" stroke-width="0.9" />
<line x1="346.95" y1="602.3" x2="353.55" y2="602.3" stroke="#d97a8d" stroke-width="0.9" />
<line x1="381.05" y1="616.4" x2="381.05" y2="638.4" stroke="#6f95bd" stroke-width="0.9" />
<line x1="377.75" y1="616.4" x2="384.35" y2="616.4" stroke="#6f95bd" stroke-width="0.9" />
<line x1="377.75" y1="638.4" x2="384.35" y2="638.4" stroke="#6f95bd" stroke-width="0.9" />
<line x1="399.05" y1="590.3" x2="399.05" y2="626.2" stroke="#d97a8d" stroke-width="0.9" />
<line x1="395.75" y1="590.3" x2="402.35" y2="590.3" stroke="#d97a8d" stroke-width="0.9" />
<line x1="395.75" y1="626.2" x2="402.35" y2="626.2" stroke="#d97a8d" stroke-width="0.9" />
<line x1="430.05" y1="601" x2="430.05" y2="626" stroke="#6f95bd" stroke-width="0.9" />
<line x1="426.75" y1="601" x2="433.35" y2="601" stroke="#6f95bd" stroke-width="0.9" />
<line x1="426.75" y1="626" x2="433.35" y2="626" stroke="#6f95bd" stroke-width="0.9" />
<line x1="448.25" y1="556" x2="448.25" y2="588" stroke="#d97a8d" stroke-width="0.9" />
<line x1="444.95" y1="556" x2="451.55" y2="556" stroke="#d97a8d" stroke-width="0.9" />
<line x1="444.95" y1="588" x2="451.55" y2="588" stroke="#d97a8d" stroke-width="0.9" />
<line x1="478.65" y1="600.9" x2="478.65" y2="636" stroke="#6f95bd" stroke-width="0.9" />
<line x1="475.35" y1="600.9" x2="481.95" y2="600.9" stroke="#6f95bd" stroke-width="0.9" />
<line x1="475.35" y1="636" x2="481.95" y2="636" stroke="#6f95bd" stroke-width="0.9" />
<line x1="496.55" y1="560" x2="496.55" y2="613.9" stroke="#d97a8d" stroke-width="0.9" />
<line x1="493.25" y1="560" x2="499.85" y2="560" stroke="#d97a8d" stroke-width="0.9" />
<line x1="493.25" y1="613.9" x2="499.85" y2="613.9" stroke="#d97a8d" stroke-width="0.9" />
<circle cx="327.6" cy="604.3" r="1.85" fill="#1b4874"/>
<circle cx="332" cy="604.1" r="1.85" fill="#1b4874"/>
<circle cx="336.3" cy="604.3" r="1.85" fill="#1b4874"/>
<circle cx="332" cy="613.3" r="1.85" fill="#1b4874"/>
<circle cx="330" cy="622.6" r="1.85" fill="#1b4874"/>
<circle cx="334" cy="623.8" r="1.85" fill="#1b4874"/>
<circle cx="332" cy="630.7" r="1.85" fill="#1b4874"/>
<rect x="348.45" y="552.85" width="3.7" height="3.7" fill="#c3102f"/>
<rect x="344.35" y="565.95" width="3.7" height="3.7" fill="#c3102f"/>
<rect x="352.55" y="565.95" width="3.7" height="3.7" fill="#c3102f"/>
<rect x="348.45" y="580.65" width="3.7" height="3.7" fill="#c3102f"/>
<rect x="344.95" y="593.55" width="3.7" height="3.7" fill="#c3102f"/>
<rect x="352.45" y="596.95" width="3.7" height="3.7" fill="#c3102f"/>
<rect x="348.35" y="607.45" width="3.7" height="3.7" fill="#c3102f"/>
<circle cx="381" cy="612.9" r="1.85" fill="#1b4874"/>
<circle cx="376.9" cy="620.4" r="1.85" fill="#1b4874"/>
<circle cx="385.3" cy="621.6" r="1.85" fill="#1b4874"/>
<circle cx="385" cy="626.8" r="1.85" fill="#1b4874"/>
<circle cx="376.9" cy="630.3" r="1.85" fill="#1b4874"/>
<circle cx="385" cy="633.5" r="1.85" fill="#1b4874"/>
<circle cx="381" cy="646.3" r="1.85" fill="#1b4874"/>
<rect x="397.05" y="580.95" width="3.7" height="3.7" fill="#c3102f"/>
<rect x="393.35" y="597.15" width="3.7" height="3.7" fill="#c3102f"/>
<rect x="401.25" y="595.35" width="3.7" height="3.7" fill="#c3102f"/>
<rect x="397.05" y="604.35" width="3.7" height="3.7" fill="#c3102f"/>
<rect x="393.35" y="611.95" width="3.7" height="3.7" fill="#c3102f"/>
<rect x="401.25" y="615.15" width="3.7" height="3.7" fill="#c3102f"/>
<rect x="397.05" y="637.75" width="3.7" height="3.7" fill="#c3102f"/>
<circle cx="425.3" cy="602.6" r="1.85" fill="#1b4874"/>
<circle cx="429.4" cy="601.6" r="1.85" fill="#1b4874"/>
<circle cx="433.8" cy="604.5" r="1.85" fill="#1b4874"/>
<circle cx="433.8" cy="611.7" r="1.85" fill="#1b4874"/>
<circle cx="429.4" cy="615.4" r="1.85" fill="#1b4874"/>
<circle cx="429.4" cy="621.9" r="1.85" fill="#1b4874"/>
<circle cx="429.4" cy="627.2" r="1.85" fill="#1b4874"/>
<rect x="441.65" y="550.95" width="3.7" height="3.7" fill="#c3102f"/>
<rect x="449.85" y="550.95" width="3.7" height="3.7" fill="#c3102f"/>
<rect x="445.65" y="555.55" width="3.7" height="3.7" fill="#c3102f"/>
<rect x="445.65" y="561.65" width="3.7" height="3.7" fill="#c3102f"/>
<rect x="445.65" y="578.05" width="3.7" height="3.7" fill="#c3102f"/>
<rect x="445.65" y="586.25" width="3.7" height="3.7" fill="#c3102f"/>
<rect x="445.65" y="597.55" width="3.7" height="3.7" fill="#c3102f"/>
<circle cx="476.5" cy="598.3" r="1.85" fill="#1b4874"/>
<circle cx="480.4" cy="598" r="1.85" fill="#1b4874"/>
<circle cx="474.3" cy="616.8" r="1.85" fill="#1b4874"/>
<circle cx="478.4" cy="619.7" r="1.85" fill="#1b4874"/>
<circle cx="482.8" cy="617.5" r="1.85" fill="#1b4874"/>
<circle cx="478.4" cy="633.9" r="1.85" fill="#1b4874"/>
<circle cx="478.4" cy="644.7" r="1.85" fill="#1b4874"/>
<rect x="494.65" y="550.95" width="3.7" height="3.7" fill="#c3102f"/>
<rect x="494.65" y="558.45" width="3.7" height="3.7" fill="#c3102f"/>
<rect x="494.65" y="572.25" width="3.7" height="3.7" fill="#c3102f"/>
<rect x="490.65" y="585.95" width="3.7" height="3.7" fill="#c3102f"/>
<rect x="498.85" y="585.25" width="3.7" height="3.7" fill="#c3102f"/>
<rect x="494.65" y="605.55" width="3.7" height="3.7" fill="#c3102f"/>
<rect x="494.65" y="632.35" width="3.7" height="3.7" fill="#c3102f"/>
<line x1="316.6" y1="650.8" x2="320" y2="650.8" stroke="#222" stroke-width="1.2" />
<text x="313.7" y="653.9" font-size="8.8" text-anchor="end" font-weight="normal" font-style="normal" fill="#222" stroke="#222" stroke-width="0.22" >0</text>
<line x1="316.6" y1="598.3" x2="320" y2="598.3" stroke="#222" stroke-width="1.2" />
<text x="313.7" y="601.4" font-size="8.8" text-anchor="end" font-weight="normal" font-style="normal" fill="#222" stroke="#222" stroke-width="0.22" >1000</text>
<line x1="316.6" y1="545.8" x2="320" y2="545.8" stroke="#222" stroke-width="1.2" />
<text x="313.7" y="548.9" font-size="8.8" text-anchor="end" font-weight="normal" font-style="normal" fill="#222" stroke="#222" stroke-width="0.22" >2000</text>
<line x1="316.6" y1="493.3" x2="320" y2="493.3" stroke="#222" stroke-width="1.2" />
<text x="313.7" y="496.4" font-size="8.8" text-anchor="end" font-weight="normal" font-style="normal" fill="#222" stroke="#222" stroke-width="0.22" >3000</text>
<line x1="341.2" y1="650.8" x2="341.2" y2="653.2" stroke="#1a1a1a" stroke-width="1.0" />
<text x="341.2" y="665" font-size="8.2" text-anchor="middle" font-weight="normal" font-style="normal" fill="#222" stroke="#222" stroke-width="0.22" >Sham</text>
<line x1="390" y1="650.8" x2="390" y2="653.2" stroke="#1a1a1a" stroke-width="1.0" />
<text x="390.2" y="665" font-size="8.2" text-anchor="middle" font-weight="normal" font-style="normal" fill="#222" stroke="#222" stroke-width="0.22" letter-spacing="0.4">I/R</text>
<line x1="439" y1="650.8" x2="439" y2="653.2" stroke="#1a1a1a" stroke-width="1.0" />
<text x="439" y="665" font-size="8.2" text-anchor="middle" font-weight="normal" font-style="normal" fill="#222" stroke="#222" stroke-width="0.22" >Sham</text>
<line x1="487.2" y1="650.8" x2="487.2" y2="653.2" stroke="#1a1a1a" stroke-width="1.0" />
<text x="487.4" y="665" font-size="8.2" text-anchor="middle" font-weight="normal" font-style="normal" fill="#222" stroke="#222" stroke-width="0.22" letter-spacing="0.4">I/R</text>
<line x1="329.3" y1="670.4" x2="399.6" y2="670.4" stroke="#3a3a3a" stroke-width="1.25" />
<text x="364.45" y="681" font-size="8.2" text-anchor="middle" font-weight="normal" font-style="normal" fill="#222" stroke="#222" stroke-width="0.22" >Day 1</text>
<line x1="426.5" y1="670.4" x2="496" y2="670.4" stroke="#3a3a3a" stroke-width="1.25" />
<text x="461.25" y="681" font-size="8.2" text-anchor="middle" font-weight="normal" font-style="normal" fill="#222" stroke="#222" stroke-width="0.22" >Day 2</text>
<line x1="415.2" y1="541.4" x2="415.2" y2="645" stroke="#3a4a62" stroke-width="1.3" stroke-dasharray="2.5 2.65"/>
<line x1="415.2" y1="656.4" x2="415.2" y2="683" stroke="#3a4a62" stroke-width="1.3" stroke-dasharray="2.5 2.65"/>
<polyline points="332.2,597.7 332.2,539.6 348.7,539.6 348.7,548.7" fill="none" stroke="#262626" stroke-width="1.05"/>
<circle cx="335.72" cy="535.2" r="1.1" fill="#1a1a1a"/>
<circle cx="338.87" cy="535.2" r="1.1" fill="#1a1a1a"/>
<circle cx="342.02" cy="535.2" r="1.1" fill="#1a1a1a"/>
<circle cx="345.17" cy="535.2" r="1.1" fill="#1a1a1a"/>
<polyline points="352.5,548.7 352.5,539.6 399.4,539.6 399.4,556.1" fill="none" stroke="#262626" stroke-width="1.05"/>
<circle cx="375.95" cy="535.2" r="1.1" fill="#1a1a1a"/>
<polyline points="380.8,605.9 380.8,569 399.3,569 399.3,576.4" fill="none" stroke="#262626" stroke-width="1.05"/>
<circle cx="385.32" cy="564.6" r="1.1" fill="#1a1a1a"/>
<circle cx="388.47" cy="564.6" r="1.1" fill="#1a1a1a"/>
<circle cx="391.62" cy="564.6" r="1.1" fill="#1a1a1a"/>
<circle cx="394.77" cy="564.6" r="1.1" fill="#1a1a1a"/>
<polyline points="429.4,595.1 429.4,539.6 447.5,539.6 447.5,545.1" fill="none" stroke="#262626" stroke-width="1.05"/>
<circle cx="433.72" cy="535.2" r="1.1" fill="#1a1a1a"/>
<circle cx="436.87" cy="535.2" r="1.1" fill="#1a1a1a"/>
<circle cx="440.02" cy="535.2" r="1.1" fill="#1a1a1a"/>
<circle cx="443.17" cy="535.2" r="1.1" fill="#1a1a1a"/>
<polyline points="478.4,591.4 478.4,539.6 496.5,539.6 496.5,546.1" fill="none" stroke="#262626" stroke-width="1.05"/>
<circle cx="482.72" cy="535.2" r="1.1" fill="#1a1a1a"/>
<circle cx="485.87" cy="535.2" r="1.1" fill="#1a1a1a"/>
<circle cx="489.02" cy="535.2" r="1.1" fill="#1a1a1a"/>
<circle cx="492.17" cy="535.2" r="1.1" fill="#1a1a1a"/>
<circle cx="329.6" cy="497.7" r="2.85" fill="#1b4874"/>
<text x="336.2" y="500.5" font-size="7.8" text-anchor="start" font-weight="normal" font-style="normal" fill="#222" stroke="#222" stroke-width="0.22" >non-RP</text>
<rect x="326.75" y="506.75" width="5.7" height="5.7" fill="#c3102f"/>
<text x="336.2" y="512.4" font-size="7.8" text-anchor="start" font-weight="normal" font-style="normal" fill="#222" stroke="#222" stroke-width="0.22" >RP</text>
<text x="414" y="484.5" font-size="8.8" text-anchor="middle" font-weight="normal" font-style="italic" fill="#222" stroke="#222" stroke-width="0.22" >Activated</text>
<text transform="translate(286.7,572.7) rotate(-90)" x="0" y="0" font-size="8.3" font-weight="normal" text-anchor="middle" fill="#1e1e1e" stroke="#1e1e1e" stroke-width="0.3" textLength="72.8" lengthAdjust="spacingAndGlyphs">CD62P-PE/Cy7 (GMFI)</text>
<rect x="0.5" y="0.5" width="519" height="689" fill="none" stroke="#484848" stroke-width="1"/>
</svg>
</body></html>
